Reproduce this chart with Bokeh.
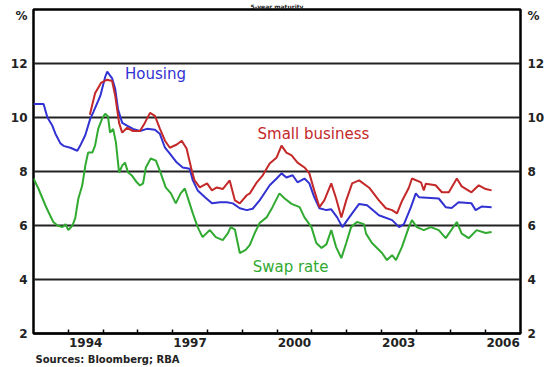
from bokeh.plotting import figure
from bokeh.models import Range1d, LinearAxis, FixedTicker, Label, Title
from bokeh.embed import file_html
from bokeh.resources import INLINE

# ---- data (decimal years, per cent) ----
housing_x = [1993.0, 1993.29, 1993.40, 1993.54, 1993.63, 1993.77, 1993.86, 1994.06, 1994.26, 1994.34,
             1994.49, 1994.63, 1994.72, 1994.92, 1995.06, 1995.12, 1995.26, 1995.35, 1995.43, 1995.55,
             1995.69, 1995.86, 1996.06, 1996.26, 1996.49, 1996.63, 1996.78, 1996.92, 1997.12, 1997.29,
             1997.49, 1997.58, 1997.72, 1997.93, 1998.13, 1998.36, 1998.56, 1998.73, 1998.93, 1999.13,
             1999.30, 1999.50, 1999.59, 1999.79, 1999.99, 2000.13, 2000.27, 2000.45, 2000.59, 2000.79,
             2000.93, 2001.07, 2001.22, 2001.42, 2001.56, 2001.73, 2001.88, 2002.02, 2002.16, 2002.36,
             2002.59, 2002.93, 2003.31, 2003.51, 2003.65, 2003.85, 2003.99, 2004.08, 2004.65, 2004.85,
             2005.02, 2005.22, 2005.59, 2005.71, 2005.88, 2006.17]
housing_y = [10.5, 10.5, 10.0, 9.7, 9.4, 9.05, 8.95, 8.88, 8.77, 8.95,
             9.35, 9.95, 10.2, 10.8, 11.5, 11.7, 11.45, 11.05, 10.3, 9.8,
             9.7, 9.58, 9.5, 9.58, 9.55, 9.4, 8.88, 8.66, 8.33, 8.15,
             8.1, 7.67, 7.3, 7.05, 6.82, 6.86, 6.86, 6.82, 6.64, 6.57,
             6.62, 6.93, 7.1, 7.49, 7.74, 7.93, 7.78, 7.86, 7.6, 7.74,
             7.56, 7.05, 6.64, 6.57, 6.6, 6.3, 5.94, 6.2, 6.45, 6.8,
             6.75, 6.38, 6.2, 5.94, 6.05, 6.68, 7.19, 7.05, 7.0, 6.68,
             6.65, 6.86, 6.82, 6.57, 6.7, 6.68]

small_x = [1994.62, 1994.77, 1994.94, 1995.12, 1995.26, 1995.35, 1995.46, 1995.55, 1995.69, 1995.86,
           1996.06, 1996.20, 1996.35, 1996.49, 1996.63, 1996.78, 1996.92, 1997.12, 1997.26, 1997.40,
           1997.55, 1997.63, 1997.78, 1997.99, 1998.13, 1998.27, 1998.44, 1998.64, 1998.79, 1998.93,
           1999.13, 1999.22, 1999.42, 1999.59, 1999.79, 1999.99, 2000.13, 2000.27, 2000.42, 2000.59,
           2000.79, 2000.93, 2001.07, 2001.22, 2001.36, 2001.56, 2001.70, 2001.85, 2001.99, 2002.16,
           2002.36, 2002.65, 2002.93, 2003.13, 2003.31, 2003.45, 2003.59, 2003.79, 2003.88, 2004.14,
           2004.22, 2004.28, 2004.56, 2004.74, 2004.94, 2005.17, 2005.31, 2005.59, 2005.80, 2006.00,
           2006.17]
small_y = [10.1, 10.9, 11.28, 11.4, 11.35, 10.8, 9.8, 9.44, 9.62, 9.5,
           9.5, 9.8, 10.17, 10.06, 9.6, 9.14, 8.88, 9.0, 9.14, 8.85,
           8.04, 7.67, 7.41, 7.56, 7.3, 7.41, 7.35, 7.67, 6.93, 6.82,
           7.12, 7.19, 7.6, 7.86, 8.3, 8.52, 8.96, 8.7, 8.6, 8.33,
           8.15, 7.93, 7.3, 6.68, 6.93, 7.56, 7.0, 6.3, 6.93, 7.56,
           7.67, 7.4, 6.93, 6.64, 6.57, 6.45, 6.9, 7.4, 7.74, 7.6,
           7.3, 7.55, 7.49, 7.23, 7.23, 7.74, 7.45, 7.23, 7.49, 7.35,
           7.3]

swap_x = [1993.0, 1993.14, 1993.26, 1993.34, 1993.43, 1993.57, 1993.69, 1993.83, 1993.92, 1994.00,
          1994.12, 1994.20, 1994.29, 1994.40, 1994.49, 1994.57, 1994.69, 1994.77, 1994.86, 1994.97,
          1995.06, 1995.14, 1995.20, 1995.29, 1995.37, 1995.46, 1995.55, 1995.63, 1995.72, 1995.83,
          1995.97, 1996.06, 1996.15, 1996.23, 1996.37, 1996.52, 1996.66, 1996.80, 1996.95, 1997.09,
          1997.23, 1997.35, 1997.43, 1997.58, 1997.72, 1997.86, 1998.07, 1998.24, 1998.44, 1998.59,
          1998.67, 1998.79, 1998.93, 1999.10, 1999.22, 1999.36, 1999.50, 1999.70, 1999.87, 2000.07,
          2000.22, 2000.42, 2000.65, 2000.79, 2000.99, 2001.13, 2001.28, 2001.42, 2001.56, 2001.70,
          2001.85, 2001.99, 2002.13, 2002.30, 2002.50, 2002.56, 2002.73, 2003.02, 2003.16, 2003.31,
          2003.42, 2003.59, 2003.79, 2003.88, 2004.02, 2004.22, 2004.42, 2004.65, 2004.85, 2005.17,
          2005.31, 2005.51, 2005.74, 2006.00, 2006.17]
swap_y = [7.74, 7.37, 7.0, 6.75, 6.5, 6.13, 6.0, 5.94, 6.05, 5.83,
          6.0, 6.27, 7.0, 7.48, 8.22, 8.7, 8.7, 8.96, 9.58, 9.95,
          10.14, 10.05, 9.44, 9.58, 9.07, 7.96, 8.22, 8.33, 7.96, 7.85,
          7.6, 7.48, 7.56, 8.15, 8.48, 8.4, 7.93, 7.41, 7.19, 6.82,
          7.19, 7.37, 7.05, 6.45, 5.94, 5.57, 5.83, 5.57, 5.46, 5.72,
          5.94, 5.85, 4.98, 5.1, 5.28, 5.72, 6.09, 6.3, 6.68, 7.19,
          7.0, 6.8, 6.68, 6.3, 5.94, 5.35, 5.17, 5.3, 5.83, 5.2,
          4.79, 5.35, 5.94, 6.13, 6.05, 5.7, 5.35, 4.98, 4.72, 4.9,
          4.72, 5.2, 5.94, 6.2, 5.94, 5.83, 5.94, 5.83, 5.53, 6.13,
          5.7, 5.53, 5.83, 5.72, 5.76]

y_ticks = [2, 4, 6, 8, 10, 12]
pct_pos = 13.76
year_labels = [1994, 1997, 2000, 2003, 2006]
year_ticks = list(range(1994, 2007))

FONT = "DejaVu Sans"
BLUE = "#3232d2"
RED = "#c42828"
GREEN = "#30aa30"
INK = "#222222"

p = figure(width=547, height=367, output_backend="svg", toolbar_location=None,
           x_range=Range1d(1993, 2007), y_range=Range1d(2, 14),
           min_border_left=33, min_border_right=25, min_border_top=0, min_border_bottom=34,
           y_axis_location=None)
p.outline_line_color = "black"
p.outline_line_width = 2.5
p.background_fill_color = "white"
p.border_fill_color = "white"

p.title.text = "5-year maturity"
p.title.align = "center"
p.title.text_font = FONT
p.title.text_font_size = "6px"
p.title.text_font_style = "bold"
p.title.text_color = INK
p.title.standoff = 0
p.title.offset = 0

# x axis: labels at mid-year, inward ticks at year boundaries
xa = p.xaxis[0]
xa.ticker = FixedTicker(ticks=[y + 0.5 for y in year_labels], minor_ticks=year_ticks)
xa.major_label_overrides = {y + 0.5: str(y) for y in year_labels}
xa.major_tick_in = 0
xa.major_tick_out = 0
xa.minor_tick_in = 4
xa.minor_tick_out = 0
xa.minor_tick_line_color = "black"
xa.minor_tick_line_width = 1.5
xa.axis_line_color = "black"
xa.axis_line_width = 2
xa.major_label_text_font = FONT
xa.major_label_text_font_size = "12px"
xa.major_label_text_font_style = "bold"
xa.major_label_text_color = INK
xa.major_label_standoff = 4

for side, standoff in (("left", 6), ("right", 7)):
    ax = LinearAxis(ticker=FixedTicker(ticks=y_ticks + [pct_pos]))
    ax.major_label_overrides = {pct_pos: "%"}
    ax.axis_line_color = None
    ax.major_tick_in = 0
    ax.major_tick_out = 0
    ax.minor_tick_line_color = None
    ax.major_label_text_font = FONT
    ax.major_label_text_font_size = "12px"
    ax.major_label_text_font_style = "bold"
    ax.major_label_text_color = INK
    ax.major_label_standoff = standoff
    p.add_layout(ax, side)

p.add_layout(Title(text="Sources: Bloomberg; RBA", align="left", text_font=FONT,
                   text_font_size="10px", text_font_style="bold", text_color=INK,
                   standoff=4, offset=2), "below")

p.xgrid.visible = False
p.ygrid.ticker = FixedTicker(ticks=y_ticks[1:])
p.ygrid.grid_line_color = INK
p.ygrid.grid_line_width = 1.8

p.line(housing_x, housing_y, line_color=BLUE, line_width=2)
p.line(swap_x, swap_y, line_color=GREEN, line_width=2)
p.line(small_x, small_y, line_color=RED, line_width=2)

def lab(x, y, text, color):
    p.add_layout(Label(x=x, y=y, text=text, text_color=color, text_font=FONT,
                       text_font_size="15px", text_align="left", text_baseline="middle"))

lab(1995.63, 11.61, "Housing", BLUE)
lab(1999.44, 9.40, "Small business", RED)
lab(1999.30, 4.48, "Swap rate", GREEN)

open("out.html", "w").write(file_html(p, INLINE))
